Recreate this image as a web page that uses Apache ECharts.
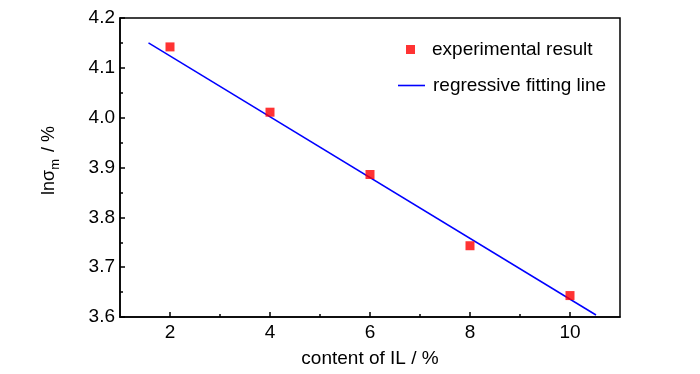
<!DOCTYPE html>
<html>
<head>
<meta charset="utf-8">
<script src="https://cdn.jsdelivr.net/npm/echarts@6/dist/echarts.min.js"></script>
<style>html,body{margin:0;padding:0;background:#fff}#c{width:700px;height:374px}</style>
</head>
<body>
<div id="c"></div>
<script>
var contentIL = [2, 4, 6, 8, 10];
var lnSigma = [4.142, 4.011, 3.886, 3.743, 3.643];
var fitX = [1.57, 10.52];
var fitY = [4.150, 3.604];
var xMajorTicks = [2, 4, 6, 8, 10];
var xMinorTicks = [3, 5, 7, 9];

var FONT = '"Liberation Sans", Arial, sans-serif';
var chart = echarts.init(document.getElementById('c'), null, {renderer: 'canvas'});
var scatterData = contentIL.map(function (x, i) { return [x, lnSigma[i]]; });
var fitData = fitX.map(function (x, i) { return [x, fitY[i]]; });

chart.setOption({
  animation: false,
  backgroundColor: '#fff',
  grid: {left: 120, top: 18, right: 80, bottom: 57, outerBoundsMode: 'none', containLabel: false,
         show: true, borderColor: '#000', borderWidth: 1.5, backgroundColor: 'transparent'},
  legend: [{
    data: ['experimental result'],
    orient: 'vertical', left: 401, top: 35,
    itemWidth: 9, itemHeight: 9, icon: 'rect',
    textStyle: {fontFamily: FONT, fontSize: 19, color: '#000', padding: [0, 0, 0, 12]}
  }, {
    data: [{name: 'regressive fitting line', icon: 'rect'}],
    orient: 'vertical', left: 393, top: 71,
    itemWidth: 27, itemHeight: 1.6,
    textStyle: {fontFamily: FONT, fontSize: 19, color: '#000', padding: [0, 0, 0, 3]}
  }],
  xAxis: [{
    type: 'value', min: 1, max: 11,
    name: 'content of IL / %', nameLocation: 'middle', nameGap: 32,
    nameTextStyle: {fontFamily: FONT, fontSize: 19, color: '#000'},
    axisLine: {show: true, onZero: false, lineStyle: {color: '#000', width: 1.5}},
    axisTick: {show: true, inside: true, length: 5, customValues: xMajorTicks, lineStyle: {color: '#000', width: 1.5}},
    axisLabel: {customValues: xMajorTicks, fontFamily: FONT, fontSize: 19, color: '#000', margin: 6},
    splitLine: {show: false}
  }, {
    type: 'value', min: 1, max: 11, position: 'bottom',
    axisLine: {show: false},
    axisTick: {show: true, inside: true, length: 3, customValues: xMinorTicks, lineStyle: {color: '#000', width: 1.5}},
    axisLabel: {show: false},
    splitLine: {show: false}
  }],
  yAxis: {
    type: 'value', min: 3.6, max: 4.2, interval: 0.1,
    name: '{a|lnσ}{m|m}{a| / %}', nameLocation: 'middle', nameGap: 58,
    nameTextStyle: {
      fontFamily: FONT, fontSize: 18, color: '#000', padding: [0, 0, 0, 14],
      rich: {
        a: {fontFamily: FONT, fontSize: 18, color: '#000'},
        m: {fontFamily: FONT, fontSize: 13, color: '#000', padding: [12, 2, 0, 0]}
      }
    },
    axisLine: {show: true, onZero: false, lineStyle: {color: '#000', width: 1.5}},
    axisTick: {show: true, inside: true, length: 5, lineStyle: {color: '#000', width: 1.5}},
    minorTick: {show: true, splitNumber: 2, length: 3, lineStyle: {color: '#000', width: 1.5}},
    axisLabel: {fontFamily: FONT, fontSize: 19, color: '#000', margin: 5, formatter: function (v) { return v.toFixed(1); }},
    splitLine: {show: false}
  },
  series: [{
    name: 'regressive fitting line', type: 'line', data: fitData,
    symbol: 'none', lineStyle: {color: '#0000ff', width: 1.5}, itemStyle: {color: '#0000ff'}, z: 2
  }, {
    name: 'experimental result', type: 'scatter', data: scatterData,
    symbol: 'rect', symbolSize: 9, itemStyle: {color: '#ff0000'}, z: 3
  }]
});
</script>
</body>
</html>
